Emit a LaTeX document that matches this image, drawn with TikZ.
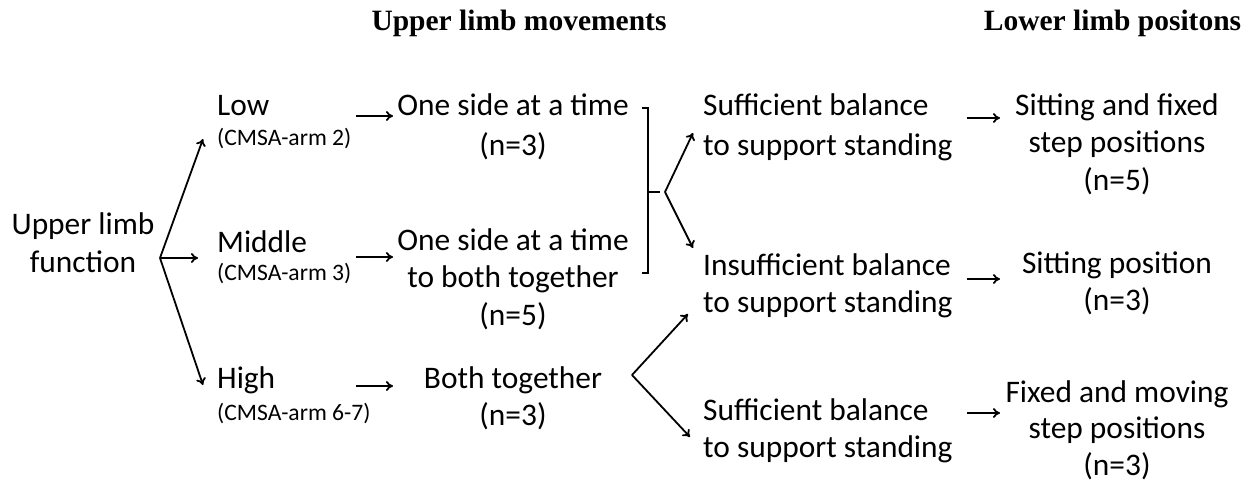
\documentclass[tikz,border=0pt]{standalone}
\usepackage{fontspec}
\setmainfont{Carlito}
\newfontfamily\hdrfont{Liberation Serif}
\usetikzlibrary{arrows.meta}
\begin{document}
\begin{tikzpicture}[x=1pt,y=-1pt,
  every node/.style={inner sep=0pt,anchor=base},
  big/.style={font=\fontsize{31.4}{38}\selectfont},
  small/.style={font=\fontsize{23.6}{28}\selectfont},
  hdr/.style={font=\hdrfont\bfseries\fontsize{29.5}{34}\selectfont},
  lw/.style={anchor=base west},
  arr/.style={line width=1.8pt,-{To[length=7pt,width=10pt]}},
  ln/.style={line width=1.8pt}]
\useasboundingbox (0,0) rectangle (1251,487);
% headers
\node[hdr] (h1) at (519,31) {Upper limb movements};
\node[hdr] (h2) at (1112.5,31) {Lower limb positons};
% root
\node[big] (root1) at (83,234) {Upper limb};
\node[big] (root2) at (83,272) {function};
% levels
\node[big,lw] (low) at (217,115) {Low};
\node[small,lw] (lowc) at (217,145) {(CMSA-arm 2)};
\node[big,lw] (mid) at (217,252) {Middle};
\node[small,lw] (midc) at (217,280) {(CMSA-arm 3)};
\node[big,lw] (high) at (217,388) {High};
\node[small,lw] (highc) at (217,420) {(CMSA-arm 6-7)};
% movements
\node[big] (m1a) at (513,115) {One side at a time};
\node[big] (m1b) at (513,155) {(n=3)};
\node[big] (m2a) at (513,250) {One side at a time};
\node[big] (m2b) at (513,287) {to both together};
\node[big] (m2c) at (513,325) {(n=5)};
\node[big] (m3a) at (513,388) {Both together};
\node[big] (m3b) at (513,425) {(n=3)};
% balance
\node[big,lw] (b1a) at (703,115) {Sufficient balance};
\node[big,lw] (b1b) at (703,155) {to support standing};
\node[big,lw] (b2a) at (703,275) {Insufficient balance};
\node[big,lw] (b2b) at (703,312) {to support standing};
\node[big,lw] (b3a) at (703,420) {Sufficient balance};
\node[big,lw] (b3b) at (703,457) {to support standing};
% positions
\node[big] (r1a) at (1117,115) {Sitting and fixed};
\node[big] (r1b) at (1117,152) {step positions};
\node[big] (r1c) at (1117,190) {(n=5)};
\node[big] (r2a) at (1117,273) {Sitting position};
\node[big] (r2b) at (1117,310) {(n=3)};
\node[big] (r3a) at (1117,402) {Fixed and moving};
\node[big] (r3b) at (1117,438) {step positions};
\node[big] (r3c) at (1117,475) {(n=3)};
% connector coordinates
\coordinate (f0) at (160,258);
\coordinate (tl) at (203,139);
\coordinate (tm) at (198,258);
\coordinate (th) at (203,385);
\coordinate (la) at (356,116); \coordinate (lb) at (393,116);
\coordinate (ma) at (356,257); \coordinate (mb) at (393,257);
\coordinate (ha) at (356,386); \coordinate (hb) at (393,386);
\coordinate (k1) at (642,108); \coordinate (k2) at (648,108);
\coordinate (k3) at (648,273); \coordinate (k4) at (642,273);
\coordinate (k5) at (648,192); \coordinate (k6) at (660,192);
\coordinate (f1) at (665,192);
\coordinate (u1) at (693,133); \coordinate (u2) at (693,248);
\coordinate (f2) at (632,375);
\coordinate (v1) at (688,314); \coordinate (v2) at (690,437);
\coordinate (ra1) at (967,118); \coordinate (rb1) at (1000,118);
\coordinate (ra2) at (967,279); \coordinate (rb2) at (1000,279);
\coordinate (ra3) at (967,413); \coordinate (rb3) at (1000,413);
% connectors
\draw[arr] (f0) -- (tl);
\draw[arr] (f0) -- (tm);
\draw[arr] (f0) -- (th);
\draw[arr] (la) -- (lb);
\draw[arr] (ma) -- (mb);
\draw[arr] (ha) -- (hb);
\draw[ln] (k1) -- (k2) -- (k3) -- (k4);
\draw[ln] (k5) -- (k6);
\draw[arr] (f1) -- (u1);
\draw[arr] (f1) -- (u2);
\draw[arr] (f2) -- (v1);
\draw[arr] (f2) -- (v2);
\draw[arr] (ra1) -- (rb1);
\draw[arr] (ra2) -- (rb2);
\draw[arr] (ra3) -- (rb3);
\end{tikzpicture}
\end{document}
